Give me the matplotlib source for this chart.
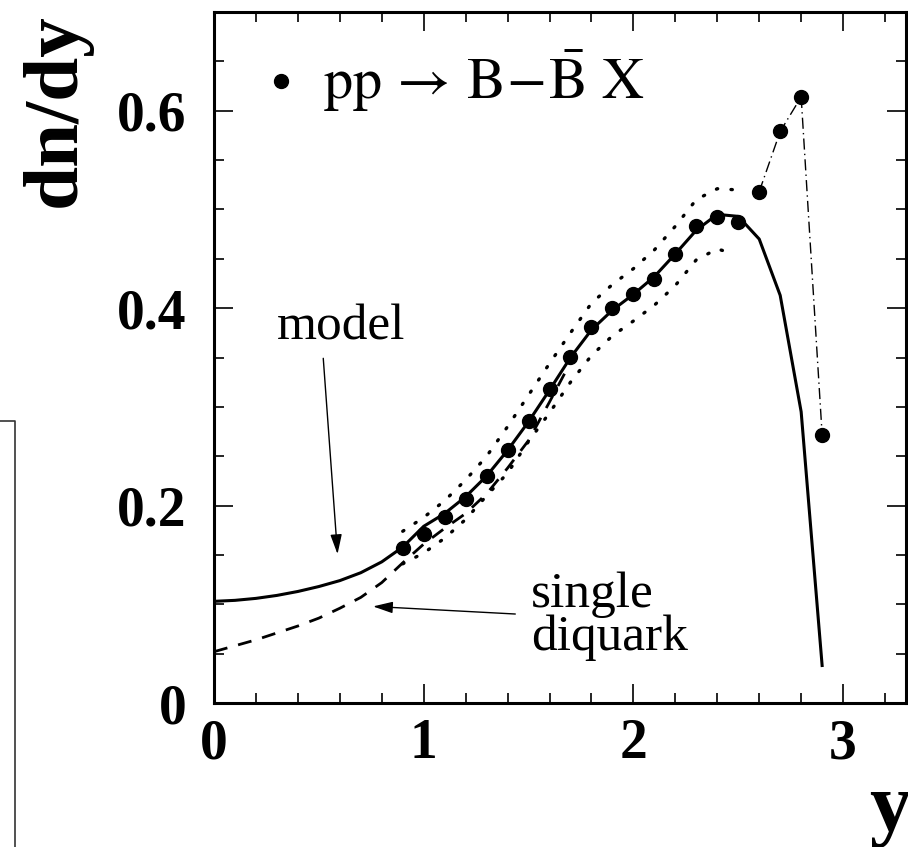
import numpy as np
import matplotlib.pyplot as plt
from matplotlib.lines import Line2D

plt.rcParams['font.family'] = ['Liberation Serif', 'DejaVu Serif']
plt.rcParams['mathtext.fontset'] = 'stix'

# data points pp -> B-Bbar X
y_data = [0.9, 1.0, 1.1, 1.2, 1.3, 1.4, 1.5, 1.6, 1.7, 1.8, 1.9, 2.0, 2.1,
          2.2, 2.3, 2.4, 2.5, 2.6, 2.7, 2.8, 2.9]
dndy_data = [0.157, 0.171, 0.188, 0.207, 0.230, 0.256, 0.286, 0.318, 0.351,
             0.381, 0.400, 0.414, 0.430, 0.455, 0.483, 0.492, 0.487,
             0.518, 0.579, 0.614, 0.272]

# model (solid)
y_model = [0.0, 0.1, 0.2, 0.3, 0.4, 0.5, 0.6, 0.7, 0.8, 0.9, 1.0, 1.1, 1.2,
           1.3, 1.4, 1.5, 1.6, 1.7, 1.8, 1.9, 2.0, 2.1, 2.2, 2.3, 2.4, 2.5,
           2.6, 2.7, 2.8, 2.9]
dndy_model = [0.103, 0.104, 0.106, 0.109, 0.113, 0.118, 0.124, 0.132, 0.143,
              0.158, 0.179, 0.192, 0.209, 0.230, 0.256, 0.285, 0.317, 0.350,
              0.378, 0.398, 0.414, 0.432, 0.455, 0.479, 0.495, 0.493, 0.470,
              0.413, 0.295, 0.038]

# single diquark (dashed)
y_single = [0.0, 0.1, 0.2, 0.3, 0.4, 0.5, 0.6, 0.7, 0.8, 0.9, 1.0, 1.1, 1.2,
            1.3, 1.4, 1.5, 1.6, 1.7]
dndy_single = [0.052, 0.058, 0.064, 0.071, 0.078, 0.086, 0.096, 0.107, 0.122,
               0.142, 0.161, 0.177, 0.192, 0.212, 0.238, 0.266, 0.305, 0.345]

# dotted band
y_band = [0.9, 1.0, 1.1, 1.2, 1.3, 1.4, 1.5, 1.6, 1.7, 1.8, 1.9, 2.0, 2.1,
          2.2, 2.3, 2.4, 2.48]
band_hi = [0.174, 0.188, 0.205, 0.226, 0.250, 0.280, 0.312, 0.344, 0.375,
           0.405, 0.424, 0.440, 0.459, 0.483, 0.510, 0.521, 0.520]
band_lo = [0.141, 0.152, 0.167, 0.186, 0.210, 0.233, 0.265, 0.294, 0.325,
           0.352, 0.372, 0.387, 0.403, 0.423, 0.449, 0.460, 0.455]

fig = plt.figure(figsize=(9.08, 8.47), dpi=100)
ax = fig.add_axes([0.2357, 0.170, 0.7621, 0.8158])

ax.plot(y_model, dndy_model, color='black', lw=2.2, zorder=3)
ax.plot(y_single, dndy_single, color='black', lw=2.0, ls=(0, (5, 4)), zorder=2)
for band in (band_hi, band_lo):
    ax.plot(y_band, band, color='black', lw=2.4, ls=(0, (0.4, 4.0)),
            dash_capstyle='round', zorder=2)
ax.plot(y_data[-4:], dndy_data[-4:], color='black', lw=1.0,
        ls=(0, (8, 3, 1, 3)), zorder=2)
ax.plot(y_data, dndy_data, 'o', color='black', ms=10, zorder=4)

ax.set_xlim(0, 3.3)
ax.set_ylim(0, 0.7)
ax.set_xticks([0, 1, 2, 3])
ax.set_xticklabels(['0', '1', '2', '3'])
ax.set_xticks(np.arange(0, 3.3, 0.2), minor=True)
ax.set_yticks([0, 0.2, 0.4, 0.6])
ax.set_yticklabels(['0', '0.2', '0.4', '0.6'])
ax.set_yticks(np.arange(0, 0.7, 0.05), minor=True)
ax.tick_params(which='both', direction='in', top=True, right=True, width=1.2)
ax.tick_params(which='major', length=14)
ax.tick_params(which='minor', length=7)
ax.tick_params(axis='y', which='major', pad=20)
ax.tick_params(axis='x', which='major', pad=11)
for lab in ax.get_xticklabels() + ax.get_yticklabels():
    lab.set_fontsize(40)
    lab.set_fontweight('bold')
for sp in ax.spines.values():
    sp.set_linewidth(2.2)

# legend
ax.plot([0.32], [0.630], 'o', color='black', ms=10)
ax.text(0.52, 0.630,
        r'$\mathrm{pp}\,\rightarrow\,\mathrm{B}\!-\!\bar{\mathrm{B}}\ \mathrm{X}$',
        fontsize=42, va='center', ha='left')

# annotations
ax.text(0.3, 0.368, 'model', fontsize=37, ha='left', va='baseline')
ax.annotate('', xy=(0.59, 0.148), xytext=(0.52, 0.352),
            arrowprops=dict(arrowstyle='-|>,head_length=1.2,head_width=0.35',
                        color='black', lw=1.0))
ax.text(1.51, 0.088, 'single\ndiquark', fontsize=37, ha='left', va='center',
        linespacing=0.89)
ax.annotate('', xy=(0.745, 0.098), xytext=(1.45, 0.090),
            arrowprops=dict(arrowstyle='-|>,head_length=1.2,head_width=0.35',
                        color='black', lw=1.0))

# axis titles
fig.text(0.062, 0.87, 'dn/dy', rotation=90, fontsize=57, fontweight='bold',
         ha='center', va='center')
fig.text(0.98, 1 - 830 / 847, 'y', fontsize=60, fontweight='bold',
         ha='center', va='baseline')

# partial frame at left edge
fig.add_artist(Line2D([0.0, 0.0165, 0.0165], [1 - 421 / 847, 1 - 421 / 847, 0.0],
                      transform=fig.transFigure, color='#333333', lw=1.2))

fig.savefig('out.png', dpi=100)
